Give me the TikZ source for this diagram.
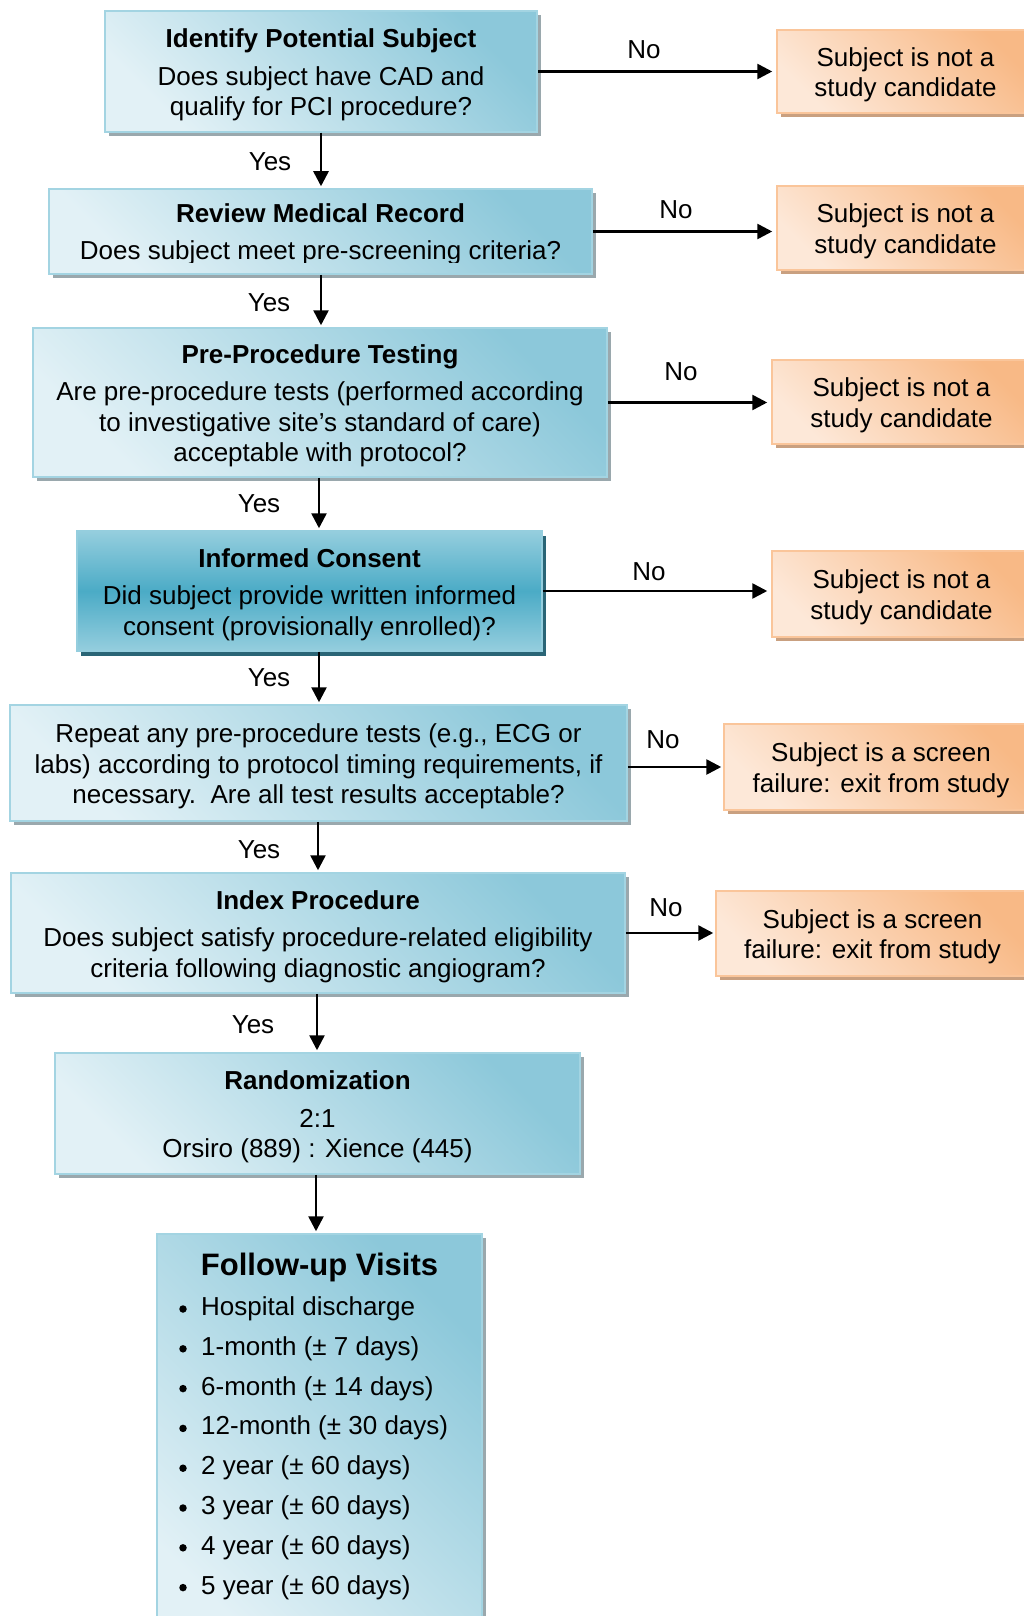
\documentclass[tikz,border=0pt]{standalone}
\usepackage{fontspec}
\setmainfont{Liberation Sans}
\usetikzlibrary{arrows.meta,shadows,calc}
\definecolor{bluelt}{HTML}{E2F1F6}
\definecolor{bluedk}{HTML}{8CC8DA}
\definecolor{blueln}{HTML}{A3D4E2}
\definecolor{bluesh}{HTML}{9AA8AD}
\definecolor{tealmid}{HTML}{4BABC6}
\definecolor{tealtop}{HTML}{95CEDE}
\definecolor{tealsh}{HTML}{2A6576}
\definecolor{orlt}{HTML}{FDE8D8}
\definecolor{ordk}{HTML}{F8B986}
\definecolor{orln}{HTML}{FAC59A}
\definecolor{orsh}{HTML}{C9A080}
\newcommand{\TS}{\rule{0pt}{25.5pt}}
\tikzset{
  txt/.style={font=\fontsize{26}{30.5}\selectfont, align=center, text=black},
  lbl/.style={font=\fontsize{26}{30}\selectfont, inner sep=0pt},
  bluebox/.style={txt, draw=blueln, line width=1.5pt, inner sep=0pt,
    top color=bluedk, bottom color=bluelt, shading angle=-45,
    drop shadow={shadow xshift=4pt, shadow yshift=-4pt, fill=bluesh, opacity=1}},
  tealbox/.style={txt, draw=tealtop, line width=1.5pt, inner sep=0pt,
    top color=tealtop, bottom color=tealtop, middle color=tealmid,
    drop shadow={shadow xshift=4pt, shadow yshift=-5pt, fill=tealsh, opacity=1}},
  orbox/.style={txt, draw=orln, line width=1.5pt, inner sep=0pt,
    top color=ordk, bottom color=orlt, shading angle=-45,
    drop shadow={shadow xshift=4pt, shadow yshift=-4pt, fill=orsh, opacity=1}},
  arr/.style={line width=2.6pt, -{Triangle[length=15pt,width=15pt]}},
  item/.style={font=\fontsize{26}{30}\selectfont, anchor=west, inner sep=0pt, text height=19pt, text depth=6pt},
  bullet/.style={circle, fill=black, inner sep=0pt, minimum size=7.5pt},
}
\begin{document}
\begin{tikzpicture}[x=1pt,y=-1pt]
\clip (0,0) rectangle (1024,1616);
\fill[white] (0,0) rectangle (1024,1616);

% main boxes
\node[bluebox, minimum width=432pt, minimum height=121pt] (b1) at (321,71.5)
  {\TS\textbf{Identify Potential Subject}\\[7pt]Does subject have CAD and\\qualify for PCI procedure?};
\node[bluebox, minimum width=543pt, minimum height=85pt] (b2) at (320.5,231.5) {};
\begin{scope}
  \clip (45,185) rectangle (600,262);
  \node[txt, inner sep=0pt] (b2t) at (320.5,234.5)
    {\textbf{Review Medical Record}\\[7pt]Does subject meet pre-screening criteria?};
\end{scope}
\node[bluebox, minimum width=574pt, minimum height=149pt] (b3) at (320,402.5)
  {\TS\textbf{Pre-Procedure Testing}\\[7pt]Are pre-procedure tests (performed according\\to investigative site’s standard of care)\\acceptable with protocol?};
\node[tealbox, minimum width=465pt, minimum height=120pt] (b4) at (309.5,591)
  {\TS\textbf{Informed Consent}\\[7pt]Did subject provide written informed\\consent (provisionally enrolled)?};
\node[bluebox, minimum width=617pt, minimum height=116pt] (b5) at (318.5,763)
  {\TS Repeat any pre-procedure tests (e.g., ECG or\\labs) according to protocol timing requirements, if\\necessary.\ \ Are all test results acceptable?};
\node[bluebox, minimum width=614pt, minimum height=120pt] (b6) at (318,933)
  {\TS\textbf{Index Procedure}\\[7pt]Does subject satisfy procedure-related eligibility\\criteria following diagnostic angiogram?};
\node[bluebox, minimum width=525pt, minimum height=121pt] (b7) at (317.5,1113.5)
  {\TS\textbf{Randomization}\\[7pt]2:1\\Orsiro (889) : Xience (445)};
\node[bluebox, minimum width=325pt, minimum height=420pt] (b8) at (319.5,1444) {};
\node[font=\fontsize{31}{36}\selectfont\bfseries, inner sep=0pt] (t8) at (319.5,1267) {Follow-up Visits};
\foreach \t [count=\i from 0] in {Hospital discharge, 1-month (± 7 days), 6-month (± 14 days), 12-month (± 30 days), 2 year (± 60 days), 3 year (± 60 days), 4 year (± 60 days), 5 year (± 60 days)}{
  \node[item] (it\i) at (201,1309+39.8*\i) {\t};
  \node[bullet] (bu\i) at (183,1309+39.8*\i) {};
}

% outcome boxes
\node[orbox, minimum width=257pt, minimum height=83pt] (o1) at (905.5,71.5) {\TS Subject is not a\\study candidate};
\node[orbox, minimum width=257pt, minimum height=84pt] (o2) at (905.5,228) {\TS Subject is not a\\study candidate};
\node[orbox, minimum width=259pt, minimum height=84pt] (o3) at (901.5,402) {\TS Subject is not a\\study candidate};
\node[orbox, minimum width=259pt, minimum height=86pt] (o4) at (901.5,594) {\TS Subject is not a\\study candidate};
\node[orbox, minimum width=314pt, minimum height=86pt] (o5) at (881,767) {\TS Subject is a screen\\failure: exit from study};
\node[orbox, minimum width=313pt, minimum height=85pt] (o6) at (872.5,933.5) {\TS Subject is a screen\\failure: exit from study};

% vertical connectors
\coordinate (v1) at (321,0);
\coordinate (v2) at (321,0);
\coordinate (v3) at (319,0);
\coordinate (v4) at (319,0);
\coordinate (v5) at (318,0);
\coordinate (v6) at (317,0);
\coordinate (v7) at (316,0);
\draw[arr, shorten >=2pt] (b1.south -| v1) -- (b2.north -| v1);
\draw[arr, shorten >=2pt] (b2.south -| v2) -- (b3.north -| v2);
\draw[arr, shorten >=2pt] (b3.south -| v3) -- (b4.north -| v3);
\draw[arr, shorten >=2pt] (b4.south -| v4) -- (b5.north -| v4);
\draw[arr, shorten >=2pt] (b5.south -| v5) -- (b6.north -| v5);
\draw[arr, shorten >=2pt] (b6.south -| v6) -- (b7.north -| v6);
\draw[arr, shorten >=2pt] (b7.south -| v7) -- (b8.north -| v7);

% horizontal connectors
\draw[arr, shorten >=4pt] (b1.east) -- (b1.east -| o1.west);
\draw[arr, shorten >=4pt] (b2.east) -- (b2.east -| o2.west);
\draw[arr, shorten >=4pt] (b3.east) -- (b3.east -| o3.west);
\draw[arr, shorten >=4pt] (b4.east) -- (b4.east -| o4.west);
\draw[arr, shorten >=2pt] (o5.west -| b5.east) -- (o5.west);
\draw[arr, shorten >=2pt] (b6.east) -- (b6.east -| o6.west);

% labels
\node[lbl] (y1) at (270,162) {Yes};
\node[lbl] (y2) at (269,303) {Yes};
\node[lbl] (y3) at (259,504) {Yes};
\node[lbl] (y4) at (269,678) {Yes};
\node[lbl] (y5) at (259,850) {Yes};
\node[lbl] (y6) at (253,1025) {Yes};
\node[lbl] (n1) at (644,50) {No};
\node[lbl] (n2) at (676,210) {No};
\node[lbl] (n3) at (681,372) {No};
\node[lbl] (n4) at (649,572) {No};
\node[lbl] (n5) at (663,740) {No};
\node[lbl] (n6) at (666,908) {No};
\end{tikzpicture}
\end{document}
